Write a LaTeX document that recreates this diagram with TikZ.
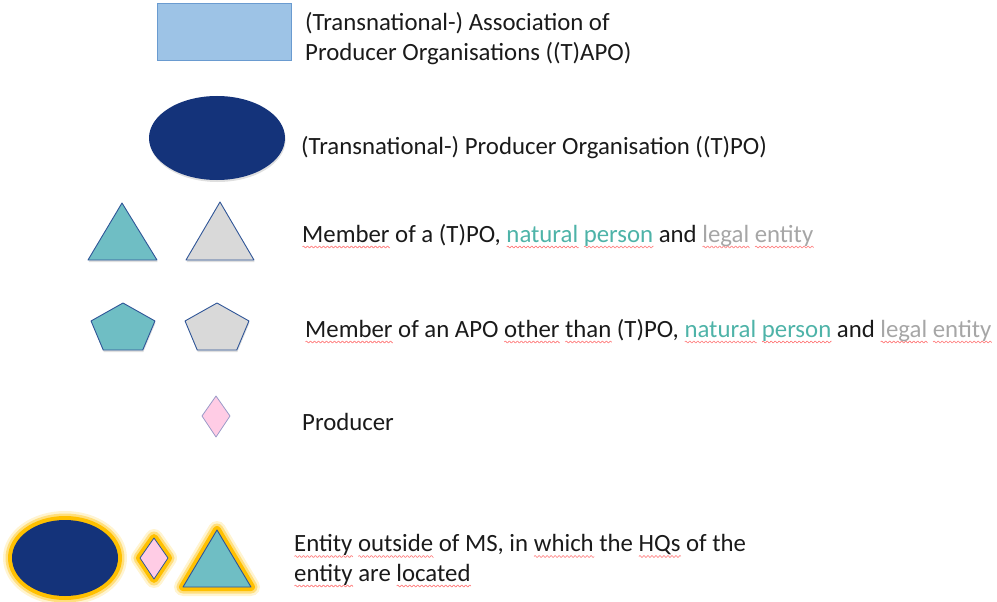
\documentclass[tikz,border=0pt]{standalone}
\usepackage{fontspec}
\setmainfont{Carlito}
\usetikzlibrary{shadows}
\newlength\splw
\newcommand\spl[1]{\settowidth\splw{#1}\pgfmathsetmacro\splend{\splw}\pgfmathtruncatemacro\splsm{\splw*2.5+2}\rlap{\tikz[baseline=0pt,x=1pt,y=1pt]\draw[red!55!white,line width=0.6pt] plot[domain=0:\splend,samples=\splsm] (\x,{-5+0.9*sin(\x*90)});}#1}
\definecolor{navy}{HTML}{14337A}
\definecolor{teal1}{HTML}{6FBEC4}
\definecolor{grey1}{HTML}{D9D9D9}
\definecolor{edgeb}{HTML}{2F5597}
\definecolor{rectf}{HTML}{9DC3E6}
\definecolor{rectb}{HTML}{6A9BD0}
\definecolor{pinkf}{HTML}{FFCCE5}
\definecolor{pinkb}{HTML}{9A9AC8}
\definecolor{glow}{HTML}{FFC000}
\definecolor{tealtxt}{HTML}{4EB3A8}
\definecolor{greytxt}{HTML}{A6A6A6}
\definecolor{txt}{HTML}{1A1A1A}
\tikzset{
  lbl/.style={anchor=base west, inner sep=0pt, text=txt, font=\fontsize{24.8}{29.5}\selectfont, align=left},
  shp/.style={draw=edgeb, line width=0.9pt, line join=round},
  shd/.style={drop shadow={opacity=0.25, shadow xshift=0.6pt, shadow yshift=-2pt}},
  glowA/.style={draw=glow, draw opacity=0.18, line width=18pt, line join=round},
  glowC/.style={draw=glow, draw opacity=0.4, line width=13pt, line join=round},
  glowB/.style={draw=glow, line width=8pt, line join=round},
  glowall/.style={preaction={glowA}, preaction={glowC}, preaction={glowB}},
}
\begin{document}
\begin{tikzpicture}[x=1pt,y=-1pt]
\useasboundingbox (0,0) rectangle (997,602);
% rectangle
\draw[fill=rectf, draw=rectb, line width=0.9pt] (157,3) rectangle (291,60);
\node[lbl] (t1) at (305,60.5) {(Transnational-) Association of\\Producer Organisations ((T)APO)};
% ellipse
\fill[navy, shd] (217,138) ellipse [x radius=68, y radius=42];
\node[lbl] (t2) at (301,154) {(Transnational-) Producer Organisation ((T)PO)};
% triangles
\path[shp, fill=teal1, shd] (122,203) -- (157,260) -- (88,260) -- cycle;
\path[shp, fill=grey1, shd] (220,202) -- (254,260) -- (186,260) -- cycle;
\node[lbl] (t3) at (302,242) {\spl{Member} of a (T)PO, \textcolor{tealtxt}{\spl{natural} \spl{person}} and \textcolor{greytxt}{\spl{legal} \spl{entity}}};
% pentagons
\foreach \cx/\col in {123/teal1, 217/grey1}{
  \path[shp, fill=\col, shd] ({\cx+33.6*cos(90)},{329-26*sin(90)}) -- ({\cx+33.6*cos(18)},{329-26*sin(18)}) -- ({\cx+33.6*cos(306)},{329-26*sin(306)}) -- ({\cx+33.6*cos(234)},{329-26*sin(234)}) -- ({\cx+33.6*cos(162)},{329-26*sin(162)}) -- cycle;
}
\node[lbl] (t4) at (305,337) {\spl{Member} of an APO \spl{other} \spl{than} (T)PO, \textcolor{tealtxt}{\spl{natural} \spl{person}} and \textcolor{greytxt}{\spl{legal} \spl{entity}}};
% diamond
\path[draw=pinkb, line width=0.8pt, fill=pinkf, line join=round] (216,396) -- (230,416) -- (216,437) -- (202,416) -- cycle;
\node[lbl] (t5) at (302,430) {Producer};
% bottom with glow
\path[glowall, fill=navy] (65,558) ellipse [x radius=53, y radius=38];
\path[glowall, draw=edgeb, line width=0.8pt, fill=pinkf, line join=round] (154,538) -- (168,558) -- (154,579) -- (140,558) -- cycle;
\path[glowall, shp, fill=teal1] (217,530) -- (251,587) -- (183,587) -- cycle;
\node[lbl] (t6) at (294,581) {\spl{Entity} \spl{outside} of MS, in \spl{which} the \spl{HQs} of the\\\spl{entity} are \spl{located}};
\end{tikzpicture}
\end{document}
